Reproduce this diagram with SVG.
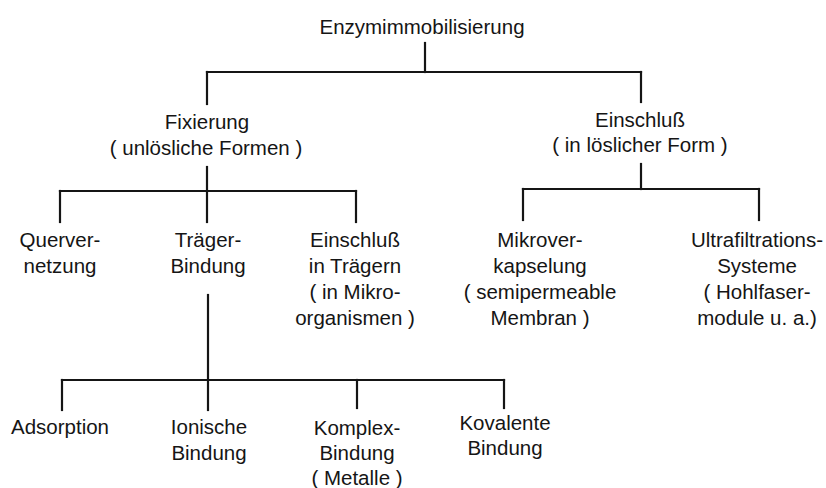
<svg xmlns="http://www.w3.org/2000/svg" width="826" height="488" viewBox="0 0 826 488">
<style>
text{font-family:"Liberation Sans",Arial,Helvetica,sans-serif;font-size:20.5px;fill:#151515;text-anchor:middle}
.c line{stroke:#151515;stroke-width:2.2;stroke-linecap:square}
</style>
<rect width="826" height="488" fill="#ffffff"/>
<g class="c" id="connectors">
<line x1="425" y1="43" x2="425" y2="72"/>
<line x1="207" y1="72" x2="641" y2="72"/>
<line x1="207" y1="72" x2="207" y2="104"/>
<line x1="641" y1="72" x2="641" y2="102"/>
<line x1="207" y1="167" x2="207" y2="191"/>
<line x1="60" y1="191" x2="356" y2="191"/>
<line x1="60" y1="191" x2="60" y2="222"/>
<line x1="207" y1="191" x2="207" y2="222"/>
<line x1="356" y1="191" x2="356" y2="222"/>
<line x1="641" y1="164" x2="641" y2="189"/>
<line x1="523" y1="189" x2="759" y2="189"/>
<line x1="523" y1="189" x2="523" y2="220"/>
<line x1="759" y1="189" x2="759" y2="220"/>
<line x1="208" y1="295" x2="208" y2="380"/>
<line x1="62" y1="380" x2="504" y2="380"/>
<line x1="62" y1="380" x2="62" y2="410"/>
<line x1="208" y1="380" x2="208" y2="410"/>
<line x1="357" y1="380" x2="357" y2="408"/>
<line x1="504" y1="380" x2="504" y2="408"/>
</g>
<g id="enzymimmobilisierung"><text x="422" y="34">Enzymimmobilisierung</text></g>
<g id="fixierung"><text x="207" y="129">Fixierung</text><text x="206" y="155">( unlösliche Formen )</text></g>
<g id="einschluss"><text x="640" y="127">Einschluß</text><text x="640" y="152">( in löslicher Form )</text></g>
<g id="quervernetzung"><text x="60" y="247">Querver-</text><text x="60" y="273">netzung</text></g>
<g id="traegerbindung"><text x="208" y="247">Träger-</text><text x="208" y="273">Bindung</text></g>
<g id="einschluss-traeger"><text x="355" y="247">Einschluß</text><text x="355" y="273">in Trägern</text><text x="355" y="299">( in Mikro-</text><text x="355" y="325">organismen )</text></g>
<g id="mikroverkapselung"><text x="540" y="247">Mikrover-</text><text x="540" y="273">kapselung</text><text x="540" y="299">( semipermeable</text><text x="540" y="325">Membran )</text></g>
<g id="ultrafiltration"><text x="757" y="247">Ultrafiltrations-</text><text x="757" y="273">Systeme</text><text x="757" y="299">( Hohlfaser-</text><text x="757" y="325">module u. a.)</text></g>
<g id="adsorption"><text x="60" y="434">Adsorption</text></g>
<g id="ionische"><text x="209" y="434">Ionische</text><text x="209" y="460">Bindung</text></g>
<g id="komplex"><text x="357" y="435">Komplex-</text><text x="357" y="460">Bindung</text><text x="357" y="485">( Metalle )</text></g>
<g id="kovalente"><text x="505" y="430">Kovalente</text><text x="505" y="455">Bindung</text></g>
</svg>
